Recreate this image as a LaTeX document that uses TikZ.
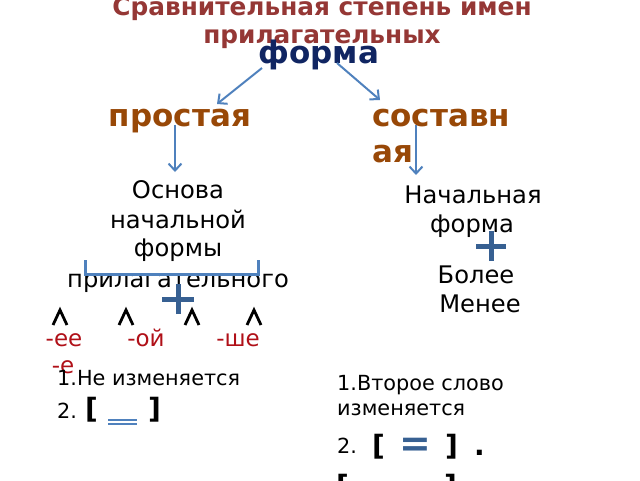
\documentclass[tikz,border=0pt]{standalone}
\usepackage{fontspec}
\setmainfont{DejaVu Sans}
\usetikzlibrary{arrows.meta}
\definecolor{titlered}{RGB}{149,55,53}
\definecolor{navy}{RGB}{16,37,98}
\definecolor{brown}{RGB}{152,72,7}
\definecolor{lineblue}{RGB}{79,129,189}
\definecolor{plusblue}{RGB}{55,96,146}
\definecolor{sufred}{RGB}{176,16,24}
\tikzset{
  txt/.style={inner sep=0pt, anchor=base},
  title/.style={txt, text=titlered, font=\fontsize{24.8}{28}\selectfont\bfseries},
  head/.style={txt, text=navy, font=\fontsize{31}{36}\selectfont\bfseries},
  kind/.style={txt, text=brown, font=\fontsize{31}{36}\selectfont\bfseries},
  body/.style={txt, font=\fontsize{24.2}{29}\selectfont},
  small/.style={txt, font=\fontsize{20.8}{25}\selectfont},
  suf/.style={txt, text=sufred, font=\fontsize{23}{25}\selectfont},
  brk/.style={txt, font=\fontsize{28}{30}\selectfont\bfseries},
  arr/.style={draw=lineblue, line width=2pt, -{Straight Barb[length=7pt,width=13pt,line width=2pt]}},
  plusline/.style={draw=plusblue, line width=5pt},
  caret/.style={draw=black, line width=2.8pt, line join=miter},
  dline/.style={draw=lineblue, line width=1.8pt},
}
\begin{document}
\begin{tikzpicture}[x=1pt,y=-1pt]
\useasboundingbox (0,0) rectangle (640,480);
% title
\node[title] (t1) at (322,15) {Сравнительная степень имен};
\node[title] (t2) at (322,43) {прилагательных};
% head
\node[head] (forma) at (319,63) {форма};
\node[kind] (prost) at (180,126) {простая};
\node[kind, anchor=base west] (sost1) at (372,126) {составн};
\node[kind, anchor=base west] (sost2) at (372,162) {ая};
% arrows
\coordinate (a1s) at (262,68); \coordinate (a1e) at (217,104);
\coordinate (a2s) at (337,63); \coordinate (a2e) at (380,100);
\coordinate (a3s) at (175,125); \coordinate (a3e) at (175,172);
\coordinate (a4s) at (416,125); \coordinate (a4e) at (416,175);
\draw[arr] (a1s) -- (a1e);
\draw[arr] (a2s) -- (a2e);
\draw[arr] (a3s) -- (a3e);
\draw[arr] (a4s) -- (a4e);
% left column
\node[body] (l1) at (178,198) {Основа};
\node[body] (l2) at (178,228) {начальной};
\node[body] (l3) at (178,256) {формы};
\node[body] (l4) at (178,287) {прилагательного};
\coordinate (b1) at (85,260); \coordinate (b2) at (85,274);
\coordinate (b3) at (258,274); \coordinate (b4) at (258,260);
\draw[draw=lineblue, line width=3pt] (b1) -- (b2) -- (b3) -- (b4);
\coordinate (p1c) at (178,299);
\draw[plusline] ([xshift=-16pt]p1c) -- ([xshift=16pt]p1c);
\draw[plusline] ([yshift=-15pt]p1c) -- ([yshift=15pt]p1c);
\foreach \cx/\nm in {60/ca,126/cb,192/cc,254/cd}{
  \coordinate (\nm) at (\cx,310);
  \draw[caret] ([xshift=-7pt,yshift=-15pt]\nm) -- (\nm) -- ([xshift=7pt,yshift=-15pt]\nm);
}
\node[suf] (s1) at (64,346) {-ее};
\node[suf] (s1b) at (63,373) {-е};
\node[suf] (s2) at (146,346) {-ой};
\node[suf] (s3) at (238,346) {-ше};
% right column
\node[body] (r1) at (473,203) {Начальная};
\node[body] (r2) at (472,232) {форма};
\coordinate (p2c) at (491,246);
\draw[plusline] ([xshift=-15pt]p2c) -- ([xshift=15pt]p2c);
\draw[plusline] ([yshift=-15pt]p2c) -- ([yshift=15pt]p2c);
\node[body] (r3) at (476,283) {Более};
\node[body] (r4) at (480,312) {Менее};
% bottom left
\node[small, anchor=base west] (bl1) at (57,385) {1.Не изменяется};
\node[small, anchor=base west] (bl2) at (57,418) {2.};
\node[brk, anchor=base west] (bl3) at (85,418) {[};
\node[brk, anchor=base west] (bl4) at (148,418) {]};
\coordinate (u1) at (108,420); \coordinate (u2) at (137,420);
\draw[dline] (u1) -- (u2);
\draw[dline] ([yshift=-4pt]u1) -- ([yshift=-4pt]u2);
% bottom right
\node[small, anchor=base west] (br1) at (337,390) {1.Второе слово};
\node[small, anchor=base west] (br2) at (337,415) {изменяется};
\node[small, anchor=base west] (br3) at (337,453) {2.};
\node[brk, anchor=base west] (br4) at (372,455) {[};
\node[brk, anchor=base, text=plusblue, font=\fontsize{38}{40}\selectfont\bfseries] (br5) at (415,456) {=};
\node[brk, anchor=base west] (br6) at (445,455) {]};
\node[brk, anchor=base west] (br7) at (474,455) {.};
\node[brk, anchor=base west] (br8) at (336,495) {[};
\node[brk, anchor=base west] (br9) at (444,495) {]};
\end{tikzpicture}
\end{document}
